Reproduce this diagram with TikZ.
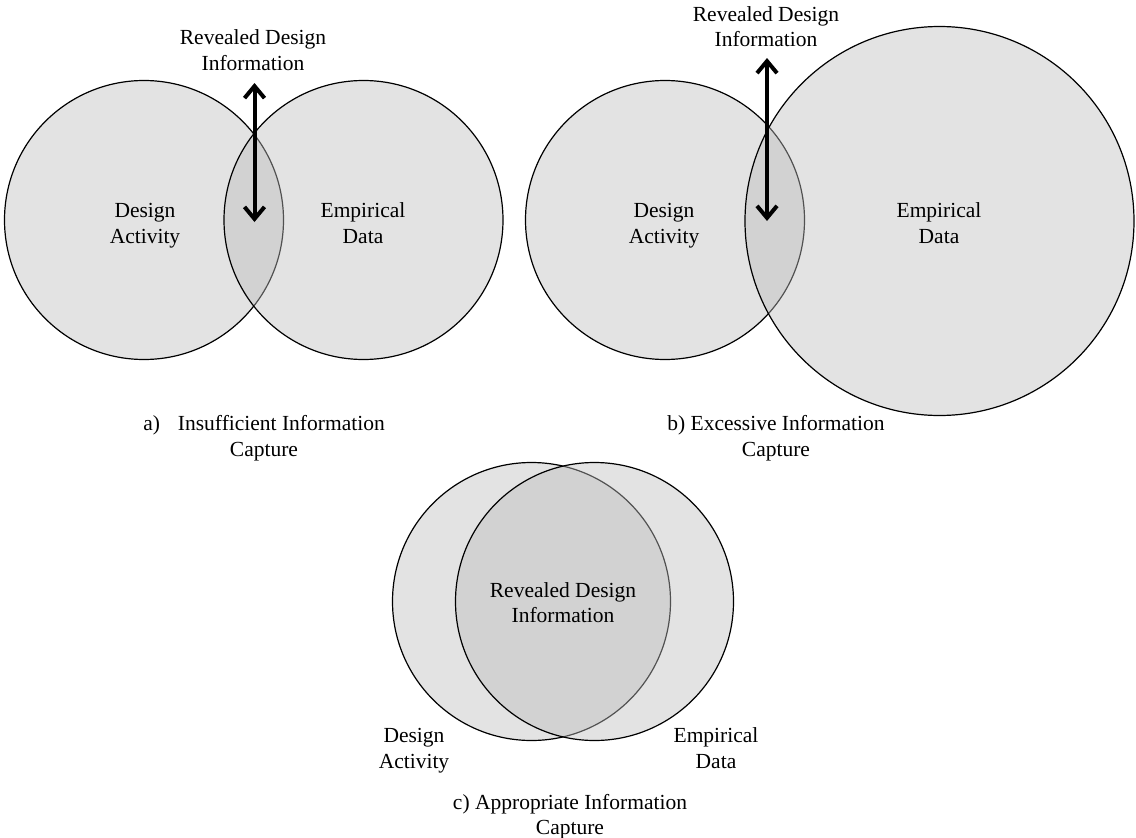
\documentclass[tikz,border=0pt]{standalone}
\usepackage{fontspec}
\setmainfont{Liberation Serif}
\usetikzlibrary{arrows.meta}
\begin{document}
\begin{tikzpicture}[x=1pt,y=-1pt,
  set/.style={circle, draw=black, line width=1.2pt, fill=black!25.7, fill opacity=0.43, inner sep=0pt, outer sep=0pt, minimum size=#1},
  lbl/.style={align=center, font=\fontsize{21.5}{25.5}\selectfont, inner sep=0pt, text=black},
  revarrow/.style={line width=4pt, {Straight Barb[length=12pt,width=20pt]}-{Straight Barb[length=12pt,width=20pt]}}]
\useasboundingbox (0,0) rectangle (1136,838);
% panel a
\node[set=279pt] (aL) at (144,220) {};
\node[set=279pt] (aR) at (363.5,220) {};
\coordinate (aTop) at (254.5,83);
\coordinate (aBot) at (254.5,222);
\draw[revarrow] (aTop) -- (aBot);
\node[lbl] (aRev) at (253,50) {Revealed Design\\Information};
\node[lbl] (aDA) at (145,225.5) {Design\\Activity};
\node[lbl] (aED) at (363,223) {Empirical\\Data};
\node[lbl] (aCap) at (264,438) {a)\hspace{18pt}Insufficient Information\\Capture};
% panel b
\node[set=279pt] (bL) at (665,220) {};
\node[set=389pt] (bR) at (939.5,221) {};
\coordinate (bTop) at (767,58);
\coordinate (bBot) at (767,221);
\draw[revarrow] (bTop) -- (bBot);
\node[lbl] (bRev) at (766,26.5) {Revealed Design\\Information};
\node[lbl] (bDA) at (664,225.5) {Design\\Activity};
\node[lbl] (bED) at (939,223) {Empirical\\Data};
\node[lbl] (bCap) at (776,438) {b) Excessive Information\\Capture};
% panel c
\node[set=278pt] (cL) at (531.5,601.5) {};
\node[set=278pt] (cR) at (594.5,601.5) {};
\node[lbl] (cRev) at (563,602.5) {Revealed Design\\Information};
\node[lbl] (cDA) at (414,750.5) {Design\\Activity};
\node[lbl] (cED) at (716,748) {Empirical\\Data};
\node[lbl] (cCap) at (570,816.5) {c) Appropriate Information\\Capture};
\end{tikzpicture}
\end{document}
